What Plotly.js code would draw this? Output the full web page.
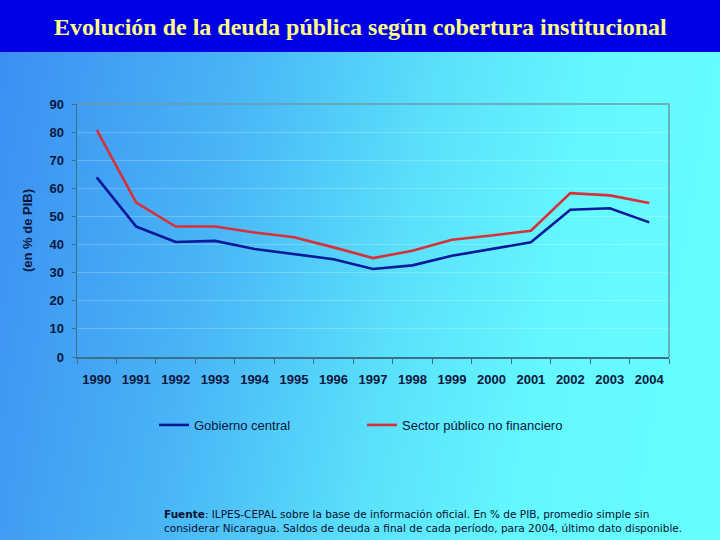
<!DOCTYPE html>
<html>
<head>
<meta charset="utf-8">
<script src="https://cdn.plot.ly/plotly-3.0.1.min.js"></script>
<style>
  html, body { margin: 0; padding: 0; }
  #chart { width: 720px; height: 540px;
    background: linear-gradient(100deg, #3b8ef2 0%, #48b4f6 30%, #5ae0fb 55%, #64f8fe 75%, #66ffff 100%); }
</style>
</head>
<body>
<div id="chart"></div>
<script>
const years = ["1990","1991","1992","1993","1994","1995","1996","1997","1998","1999","2000","2001","2002","2003","2004"];
const gobiernoCentral = [63.9, 46.4, 40.9, 41.3, 38.4, 36.5, 34.8, 31.3, 32.6, 36.0, 38.3, 40.8, 52.4, 52.9, 47.9];
const sectorPublicoNoFinanciero = [80.8, 54.9, 46.4, 46.4, 44.3, 42.6, 39.0, 35.2, 37.8, 41.7, 43.2, 44.9, 58.3, 57.5, 54.8];
const seriesNames = ["Gobierno central", "Sector público no financiero"];
const yTicks = [0, 10, 20, 30, 40, 50, 60, 70, 80, 90];

const W = 720, H = 540;
const px = v => v / W, py = v => 1 - v / H;
const tickFont = {family: "Liberation Sans, Arial, sans-serif", size: 13, color: "#0b1840", weight: "bold"};

const traces = [
  {x: years, y: gobiernoCentral, name: seriesNames[0], type: "scatter", mode: "lines",
   line: {color: "#0a1a9a", width: 2.6}},
  {x: years, y: sectorPublicoNoFinanciero, name: seriesNames[1], type: "scatter", mode: "lines",
   line: {color: "#d8303a", width: 2.6}}
];

const layout = {
  width: W, height: H,
  margin: {l: 0, r: 0, t: 0, b: 0},
  paper_bgcolor: "rgba(0,0,0,0)",
  plot_bgcolor: "rgba(0,0,0,0)",
  showlegend: true,
  legend: {orientation: "h", x: px(154), y: py(410), xanchor: "left", yanchor: "top",
    entrywidth: 163, entrywidthmode: "pixels",
    font: {family: "Liberation Sans, Arial, sans-serif", size: 13, color: "#0b1840"},
    bgcolor: "rgba(0,0,0,0)", tracegroupgap: 0},
  xaxis: {domain: [px(77), px(669)], type: "category", range: [-0.5, 14.5], tickson: "boundaries",
    ticks: "outside", ticklen: 5, tickcolor: "#3d6f8a", tickwidth: 1, tickangle: 0,
    showline: true, linecolor: "#3d6f8a", linewidth: 1.5, mirror: false,
    showgrid: false, tickfont: tickFont, fixedrange: true, ticklabelstandoff: 10},
  yaxis: {domain: [py(357), py(104)], range: [0, 90], tickvals: yTicks,
    ticks: "outside", ticklen: 4, tickcolor: "#3d6f8a",
    showline: true, linecolor: "#3d6f8a", linewidth: 1.5,
    showgrid: true, gridcolor: "rgba(255,255,255,0.22)", gridwidth: 1,
    zeroline: false, tickfont: tickFont, fixedrange: true, ticklabelstandoff: 5,
    title: {text: "(en % de PIB)", font: tickFont, standoff: 14}},
  shapes: [
    {type: "rect", xref: "paper", yref: "paper", x0: 0, x1: 1, y0: py(52), y1: 1,
     fillcolor: "#0000e6", line: {width: 0}, layer: "below"},
    {type: "line", xref: "paper", yref: "paper", x0: px(77), x1: px(669), y0: py(104), y1: py(104),
     line: {color: "#6f9aa8", width: 1.5}},
    {type: "line", xref: "paper", yref: "paper", x0: px(669), x1: px(669), y0: py(104), y1: py(357),
     line: {color: "#6f9aa8", width: 1.5}}
  ],
  annotations: [
    {text: "Evolución de la deuda pública según cobertura institucional",
     xref: "paper", yref: "paper", x: 0.5, y: py(27), xanchor: "center", yanchor: "middle",
     showarrow: false, font: {family: "Liberation Serif, Times New Roman, serif", size: 24, weight: "bold", color: "#ffff88"}},
    {text: "<b>Fuente</b>: ILPES-CEPAL sobre la base de información oficial. En % de PIB, promedio simple sin<br>considerar Nicaragua. Saldos de deuda a final de cada período, para 2004, último dato disponible.",
     xref: "paper", yref: "paper", x: px(162), y: py(506), xanchor: "left", yanchor: "top", align: "left",
     showarrow: false, font: {family: "DejaVu Sans, Tahoma, sans-serif", size: 10.5, color: "#0a1030"}}
  ]
};

Plotly.newPlot("chart", traces, layout, {displayModeBar: false, staticPlot: true});
</script>
</body>
</html>
